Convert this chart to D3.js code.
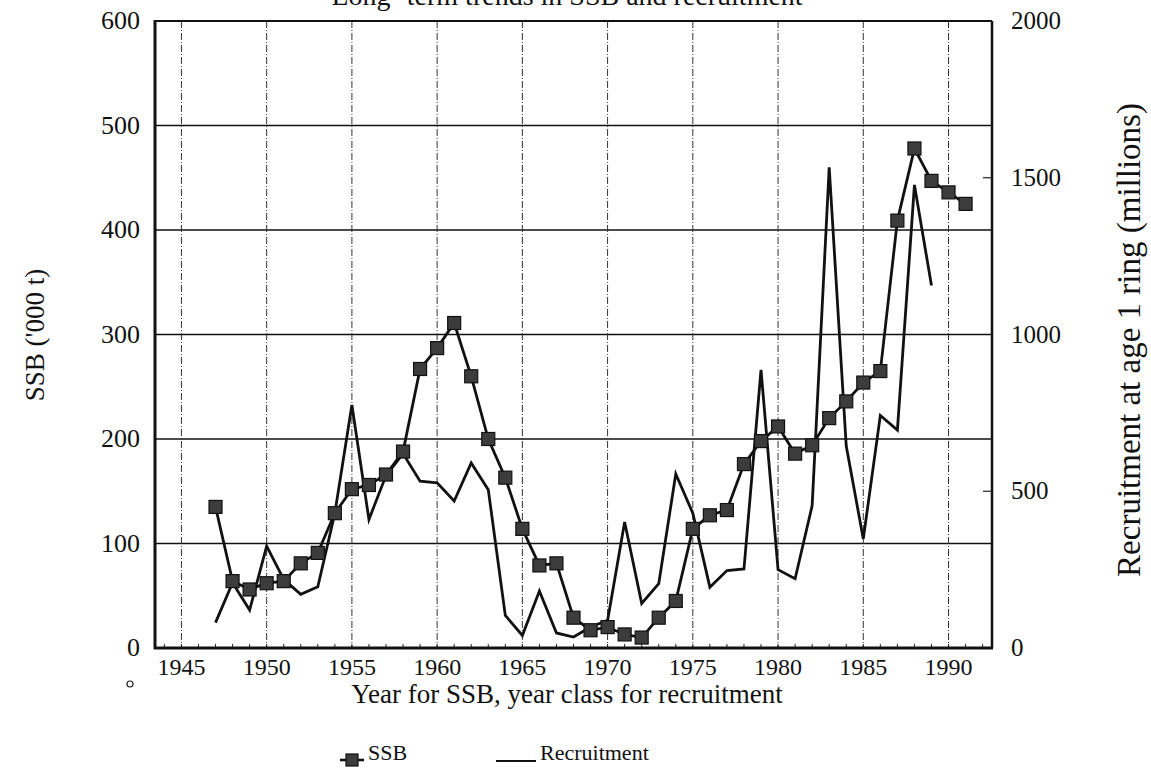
<!DOCTYPE html>
<html>
<head>
<meta charset="utf-8">
<script src="https://cdn.jsdelivr.net/npm/d3@7"></script>
<style>
  body { margin: 0; background: #fff; }
  text { font-family: "Liberation Serif", "Times New Roman", serif; fill: #111; }
</style>
</head>
<body>
<svg width="1151" height="773"></svg>
<script>
// SSB ('000 t) by year, recruitment (millions) by year class
const ssbYears = d3.range(1947, 1992);
const ssb = [135, 64, 56, 62, 64, 81, 91, 129, 152, 156,
  166, 188, 267, 287, 311, 260, 200, 163, 114, 79,
  81, 29, 17, 20, 13, 10, 29, 45, 114, 127,
  132, 176, 198, 212, 186, 194, 220, 236, 254, 265,
  409, 478, 447, 436, 425];
const recYears = d3.range(1947, 1990);
const recruitment = [81, 208, 121, 325, 219, 171, 195, 430, 775, 410,
  550, 620, 532, 527, 469, 590, 505, 104, 40, 182,
  48, 35, 67, 88, 402, 142, 205, 555, 430, 194,
  247, 252, 887, 250, 221, 454, 1533, 644, 348, 742,
  695, 1477, 1156];
const xTicks = [1945, 1950, 1955, 1960, 1965, 1970, 1975, 1980, 1985, 1990];
const leftTicks = [0, 100, 200, 300, 400, 500, 600];
const rightTicks = [0, 500, 1000, 1500, 2000];

const svg = d3.select("svg");
const pLeft = 155, pRight = 992, pTop = 21, pBottom = 648;

const x = d3.scaleLinear().domain([1943.45, 1992.55]).range([pLeft, pRight]);
const y = d3.scaleLinear().domain([0, 600]).range([pBottom, pTop]);
const y2 = d3.scaleLinear().domain([0, 2000]).range([pBottom, pTop]);

// title, cut off at the top edge like the scan
svg.append("text")
  .attr("x", 567).attr("y", 5)
  .attr("text-anchor", "middle")
  .style("font-size", "28px")
  .text("Long -term trends in SSB and recruitment");

// horizontal grid
svg.append("g")
  .selectAll("line")
  .data(leftTicks.slice(1, -1))
  .join("line")
  .attr("x1", pLeft).attr("x2", pRight)
  .attr("y1", (d) => y(d)).attr("y2", (d) => y(d))
  .attr("stroke", "#111")
  .attr("stroke-width", 1.6);

// vertical grid, dashed
svg.append("g")
  .selectAll("line")
  .data(xTicks)
  .join("line")
  .attr("x1", (d) => x(d)).attr("x2", (d) => x(d))
  .attr("y1", pTop).attr("y2", pBottom)
  .attr("stroke", "#333")
  .attr("stroke-width", 1)
  .attr("stroke-dasharray", "7,2,1,2");

// minor year ticks on the bottom
svg.append("g")
  .selectAll("line")
  .data(d3.range(1944, 1993))
  .join("line")
  .attr("x1", (d) => x(d)).attr("x2", (d) => x(d))
  .attr("y1", pBottom).attr("y2", pBottom - 4)
  .attr("stroke", "#222")
  .attr("stroke-width", 1);

// right axis inner ticks
svg.append("g")
  .selectAll("line")
  .data([500, 1500])
  .join("line")
  .attr("x1", pRight - 9).attr("x2", pRight)
  .attr("y1", (d) => y2(d)).attr("y2", (d) => y2(d))
  .attr("stroke", "#222")
  .attr("stroke-width", 1.2);

// frame
svg.append("line").attr("x1", pLeft).attr("x2", pRight).attr("y1", pTop).attr("y2", pTop)
  .attr("stroke", "#111").attr("stroke-width", 2);
svg.append("line").attr("x1", pRight).attr("x2", pRight).attr("y1", pTop).attr("y2", pBottom)
  .attr("stroke", "#111").attr("stroke-width", 2.5);
svg.append("line").attr("x1", pLeft).attr("x2", pLeft).attr("y1", pTop - 1).attr("y2", pBottom + 1)
  .attr("stroke", "#111").attr("stroke-width", 3);
svg.append("line").attr("x1", pLeft - 1).attr("x2", pRight + 1).attr("y1", pBottom).attr("y2", pBottom)
  .attr("stroke", "#111").attr("stroke-width", 3);

// tick labels
svg.append("g")
  .selectAll("text")
  .data(leftTicks)
  .join("text")
  .attr("x", 140)
  .attr("y", (d) => y(d) + 8)
  .attr("text-anchor", "end")
  .style("font-size", "26px")
  .text((d) => d);

svg.append("g")
  .selectAll("text")
  .data(rightTicks)
  .join("text")
  .attr("x", 1011)
  .attr("y", (d) => y2(d) + 8)
  .style("font-size", "25px")
  .text((d) => d);

svg.append("g")
  .selectAll("text")
  .data(xTicks)
  .join("text")
  .attr("x", (d) => x(d))
  .attr("y", 675)
  .attr("text-anchor", "middle")
  .style("font-size", "24px")
  .text((d) => d);

// axis titles
svg.append("text")
  .attr("x", 567).attr("y", 703)
  .attr("text-anchor", "middle")
  .style("font-size", "27px")
  .text("Year for SSB, year class for recruitment");

svg.append("text")
  .attr("transform", "translate(44,335) rotate(-90)")
  .attr("text-anchor", "middle")
  .style("font-size", "27px")
  .text("SSB ('000 t)");

svg.append("text")
  .attr("transform", "translate(1140,340) rotate(-90)")
  .attr("text-anchor", "middle")
  .style("font-size", "33px")
  .text("Recruitment at age 1 ring (millions)");

svg.append("circle")
  .attr("cx", 130).attr("cy", 684).attr("r", 3)
  .attr("fill", "none").attr("stroke", "#222").attr("stroke-width", 1.2);

// recruitment line
const recData = recYears.map((d, i) => ({ year: d, value: recruitment[i] }));
svg.append("path")
  .datum(recData)
  .attr("fill", "none")
  .attr("stroke", "#111")
  .attr("stroke-width", 2.8)
  .attr("d", d3.line().x((d) => x(d.year)).y((d) => y2(d.value)));

// SSB line with squares
const ssbData = ssbYears.map((d, i) => ({ year: d, value: ssb[i] }));
svg.append("path")
  .datum(ssbData)
  .attr("fill", "none")
  .attr("stroke", "#111")
  .attr("stroke-width", 2.8)
  .attr("d", d3.line().x((d) => x(d.year)).y((d) => y(d.value)));

svg.append("g")
  .selectAll("rect")
  .data(ssbData)
  .join("rect")
  .attr("x", (d) => x(d.year) - 6.5)
  .attr("y", (d) => y(d.value) - 6.5)
  .attr("width", 13)
  .attr("height", 13)
  .attr("fill", "#3c3c3c")
  .attr("stroke", "#111")
  .attr("stroke-width", 1.2);

// legend
const lg = svg.append("g");
lg.append("line").attr("x1", 340).attr("x2", 364).attr("y1", 760).attr("y2", 760)
  .attr("stroke", "#111").attr("stroke-width", 2.6);
lg.append("rect").attr("x", 346).attr("y", 754).attr("width", 12).attr("height", 12)
  .attr("fill", "#3c3c3c").attr("stroke", "#111").attr("stroke-width", 1.2);
lg.append("text").attr("x", 368).attr("y", 760).style("font-size", "22px").text("SSB");
lg.append("line").attr("x1", 496).attr("x2", 536).attr("y1", 761).attr("y2", 761)
  .attr("stroke", "#111").attr("stroke-width", 2);
lg.append("text").attr("x", 540).attr("y", 760).style("font-size", "22px").text("Recruitment");
</script>
</body>
</html>
